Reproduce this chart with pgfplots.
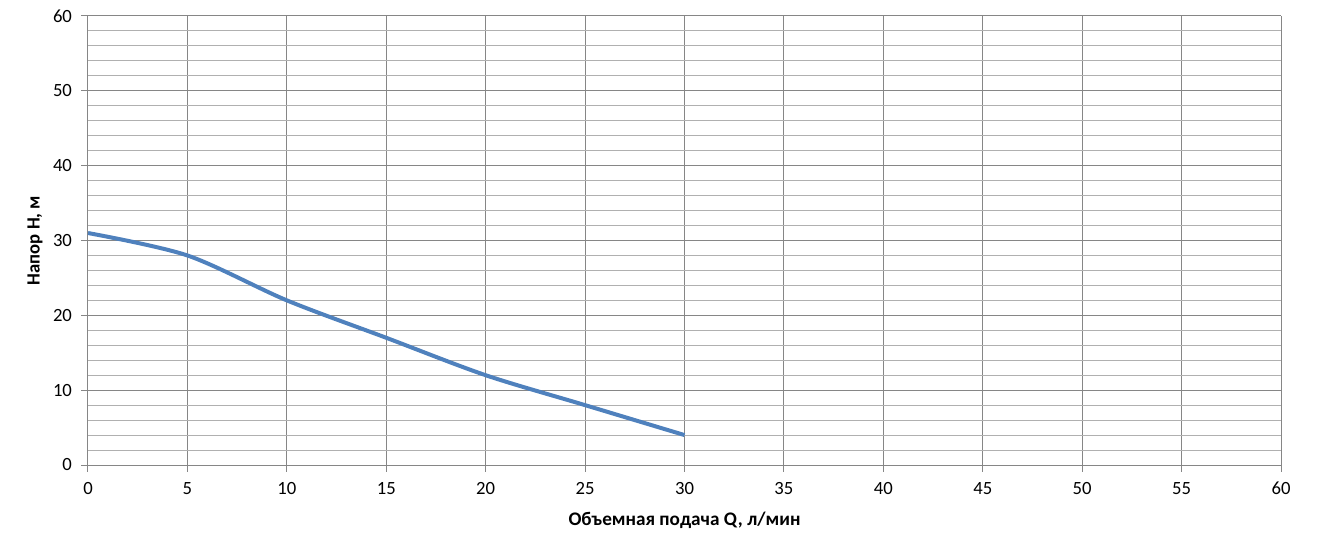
\documentclass[border=0pt]{standalone}
\usepackage{pgfplots}
\pgfplotsset{compat=1.18}
\usepackage{fontspec}
\setmainfont{Carlito}
\definecolor{majgrid}{HTML}{868686}
\definecolor{mingrid}{HTML}{B0B0B0}
\definecolor{curve}{HTML}{4F81BD}
\begin{document}
\begin{tikzpicture}
\begin{axis}[
  scale only axis,
  width=894.75pt, height=336.75pt,
  xmin=0, xmax=60, ymin=0, ymax=60,
  xtick={0,5,...,60}, ytick={0,10,...,60},
  minor y tick num=4,
  axis lines*=left,
  axis line style={majgrid, line width=0.75pt},
  grid=both,
  major grid style={majgrid, line width=0.75pt},
  minor grid style={mingrid, line width=0.75pt},
  tick align=outside,
  major tick length=5pt,
  minor tick length=0pt,
  tick style={majgrid, line width=0.75pt},
  font=\fontsize{14}{16}\selectfont,
  /pgf/number format/assume math mode=true,
  ticklabel style={font=\fontsize{14}{16}\selectfont},
  yticklabel style={xshift=-3.5pt},
  xticklabel style={yshift=-4.5pt},
  xlabel={\bfseries Объемная подача Q, л/мин},
  ylabel={\bfseries Напор H, м},
  xlabel style={at={(rel axis cs:0.5,-0.1225)}, anchor=center, font=\fontsize{14.4}{16}\selectfont},
  ylabel style={at={(rel axis cs:-0.0444,0.5)}, anchor=center},
  clip=false,
]
\path[use as bounding box] (rel axis cs:-0.07376,-0.18040) rectangle (rel axis cs:1.03101,1.03563);
\addplot[curve, line width=3pt, smooth, tension=0.5] coordinates {
  (0,31) (5,28) (10,22) (15,17) (20,12) (25,8) (30,4)
};
\end{axis}
\end{tikzpicture}
\end{document}
